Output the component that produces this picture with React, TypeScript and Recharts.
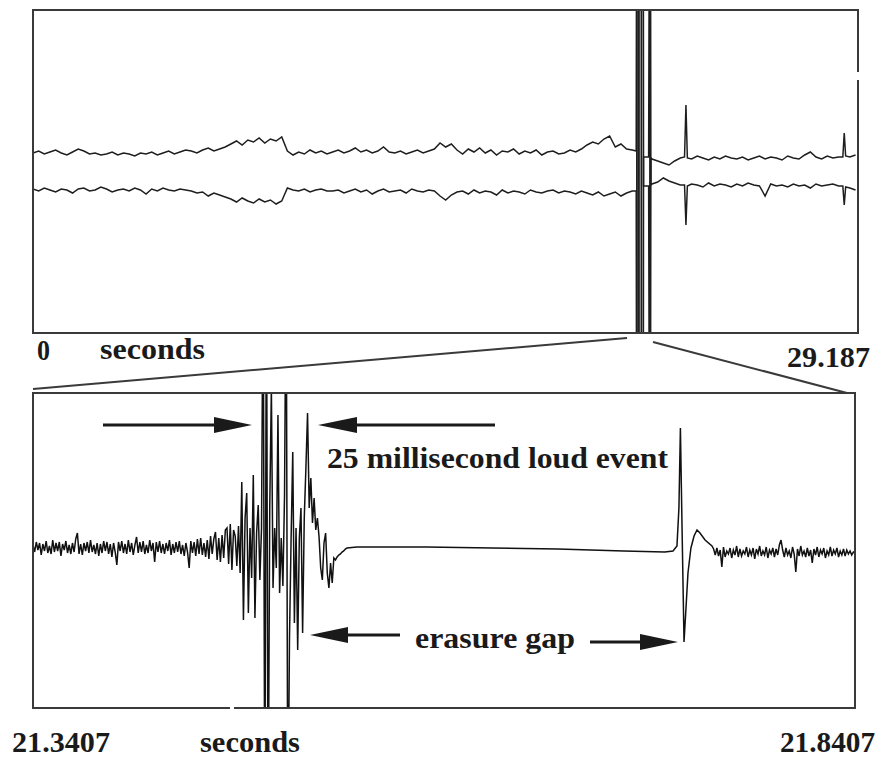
import { LineChart, Line, XAxis, YAxis } from "recharts";

// ---- overview (whole recording), two channels, one sample every 0.2 s ----
const overviewEnd = 29.187;
const overviewStep = 0.2;

// channel A (upper trace), samples from 0 s up to the loud event
const chanABefore = [
  0, 2, -1, 1, 3, 0, -2, 1, 4, 2, -1, 0, -2, -1, 1, -2, 0, -1, -3, 0, -1, 1, -2, 0, 2, -1, 1, 3,
  2, 0, 3, 5, 2, 4, 6,
  9, 12, 8, 13, 11, 15, 10, 14, 12, 16,
  2, -2, 1, -1, 3, 0, 2, -1,
  1, 3, 0, 2, 5, 1, 3, 0, 2, 6, 1, 0, 2, -1, 1, 3, 0, 2, 4,
  10, 6, 9,
  3, -1, 4, 1, 5, 0, 3, -2, 2, 1, 4, -1, 2, 0, 3, -2, 1, 2, -1, 0, 3, 1, 4,
  8, 11, 9, 14, 17,
  6, 9, 4, 3,
];
// channel B (lower trace)
const chanBBefore = [
  1, -1, 2, 0, -2, 1, 0, -3, 1, 2, -1, 0, 3, 1, -2, 0, 1, -1, 2, 0, -4, 1, -1, 2, 0, -1, 1, 0,
  -1, -3, -2, -6, -3, -5, -7,
  -9, -12, -8, -11, -13, -9, -12, -10, -14, -11,
  2, 0, -1, 1, -2, 0, 1, -1,
  -1, 0, -3, -1, 1, -2, 0, -4, -1, 1, -2, -1, 0, -3, 1, -1, -2, 0, -1,
  -6, -10, -5,
  -2, -1, -4, 0, -3, -1, -2, -5, 0, -3, -1, -2, -4, 0, -2, -3, -1, 0, -3, -1, -2, -4, -1,
  -3, -5, -2, -6, -4,
  -2, -6, -3, -1,
];

// after the erasure gap
const afterStart = 21.9;
const chanAAfter = [
  -6, -8, -10, -12, -8, -5, 48, -6, -3, -5,
  -7, -4, -6, -3, -5, -6, -4, -7, -5, -3,
  -6, -4, -5, -7, -3, -5, -6, -2, 1, -4,
  -6, -3, -5, -4, 20, -4, -2,
];
const chanBAfter = [
  6, 8, 12, 9, 7, 5, -35, 6, 5, 3,
  7, 4, 6, 5, 3, 6, 4, 7, 5, 4,
  -6, 6, 4, 5, 3, 6, 4, 5, 2, 6,
  4, 5, 6, 4, -15, 2, 0,
];

// [time s, chan A, chan B] : loud event, gap, and the narrow clicks
const overviewEvents: [number, number, number][] = [
  [21.34, 2, -1],
  [21.36, 400, -400],
  [21.37, -400, 400],
  [21.43, -400, 400],
  [21.44, 400, -400],
  [21.52, 400, -400],
  [21.53, -400, 400],
  [21.59, -400, 400],
  [21.6, -4, 4],
  [21.78, -4, 4],
  [21.82, 400, -400],
  [21.84, -400, 400],
  [21.86, -5, 5],
  [23.05, -4, 5],
  [23.15, -5, 4],
  [28.65, -4, 4],
  [28.75, -3, 3],
];

// ---- zoom 21.3407 .. 21.8407 s ----
const zoomStart = 21.3407;
const zoomEnd = 21.8407;
const noiseStep = 0.001;

const noiseBefore = [
  3, -4, 6, -2, 5, -7, 4, -3, 7, -5,
  2, -6, 8, -4, 5, -3, 6, -8, 4, -2,
  7, -5, 3, -6, 5, -4, 9, 15, -6, 4,
  -7, 5, -3, 6, -5, 8, -4, 3, -6, 5,
  -8, 4, -5, 7, -3, 6, -6, 4, -9, 5,
  -4, -17, 6, -3, 7, -5, 4, -6, 8, -4,
  5, -7, 3, 11, -5, 6, -4, 7, -6, 3,
  -5, 8, -3, 5, -14, 6, -4, 7, -5, 4,
  -6, 5, -3, 8, -7, 4, -5, 6, -4, 7,
  -6, 3, -8, 5, -4, -20, 7, -5, 6, -8,
  9, -6, 10, -7, 5, -9, 8, -11, 12, -6,
  9, 16, -12, 10, -14, 13, -10, 18, 20, -16,
  24, -22, 18,
];

const burstStart = 21.4637;
const burstStep = 0.001;
const burst = [
  12, -18, 22, -25, 66, -72, 30, 55, -65, 20,
  -30, 73, -70, 15, 43, -32, 20, 300, -300, 300,
  -300, 40, 160, -40, 20, -20, 133, -45, 10, -38,
  53, 300, -300, -92, 10, 96, -75, 20, -102, 10,
  40, -85, 30, 80, 135, 40, 70, 25, 50, 18,
  30, 11, -20, -32, 5, 15, -25, -40, -15, -35,
  -10, -12, -9, -7, -6, -4, -3, -1, 0,
];

// [time s, amplitude] : erasure gap and the click at its end
const gapAndClick: [number, number][] = [
  [21.5377, 1],
  [21.58, 1],
  [21.62, 0],
  [21.66, -1],
  [21.7, -3],
  [21.725, -4],
  [21.73, -3],
  [21.7324, 2],
  [21.7336, 40],
  [21.7345, 120],
  [21.7355, 20],
  [21.7367, -94],
  [21.7379, -60],
  [21.7391, -25],
  [21.7409, 0],
  [21.7428, 12],
  [21.7446, 18],
  [21.7464, 15],
  [21.7495, 8],
  [21.7537, 2],
];

const noiseAfterStart = 21.7547;
const noiseAfter = [
  -1, -7, 0, -8, -2, -19, 1, -9, -3, -6,
  0, -10, -2, -7, 2, -9, -1, -8, -3, -6,
  1, -9, -2, -7, 0, -11, -1, -6, 2, -8,
  -3, -7, 1, -10, -2, -6, 0, -9, -1, -7,
  3, 8, -2, -9, 0, -7, -3, -10, 1, -6,
  -24, -1, -8, 2, -7, -3, -9, 0, -8, -2,
  -15, -1, -7, 1, -9, -2, -6, 0, -10, -3,
  -7, 1, -8, -2, -6, 0, -9, -3, -7, -1,
  -8, -2, -6, -3, -7, -4, -5,
];

const overviewData = [
  ...chanABefore.map((a, i) => ({ t: i * overviewStep, a, b: chanBBefore[i] })),
  ...overviewEvents.map(([t, a, b]) => ({ t, a, b })),
  ...chanAAfter.map((a, i) => ({ t: afterStart + i * overviewStep, a, b: chanBAfter[i] })),
].sort((p, q) => p.t - q.t);

const zoomData = [
  ...noiseBefore.map((v, i) => ({ t: zoomStart + i * noiseStep, v })),
  ...burst.map((v, i) => ({ t: burstStart + i * burstStep, v })),
  ...gapAndClick.map(([t, v]) => ({ t, v })),
  ...noiseAfter.map((v, i) => ({ t: noiseAfterStart + i * noiseStep, v })),
].sort((p, q) => p.t - q.t);

const font = "'Liberation Serif', 'Times New Roman', serif";
const ink = "#1a1a1a";

const Txt = ({ x, y, w, children }: { x: number; y: number; w: number; children: string }) => (
  <text
    x={x}
    y={y}
    textLength={w}
    lengthAdjust='spacingAndGlyphs'
    fontFamily={font}
    fontWeight='bold'
    fontSize={30}
    fill={ink}
  >
    {children}
  </text>
);

export default function App() {
  return (
    <div style={{ position: "absolute", left: 0, top: 0, width: 881, height: 759, background: "#fff" }}>
      <div style={{ position: "absolute", left: 33, top: 10 }}>
        <LineChart width={825} height={323} data={overviewData} margin={{ top: 0, right: 0, bottom: 0, left: 0 }}>
          <XAxis dataKey='t' type='number' domain={[0, overviewEnd]} allowDataOverflow hide />
          <YAxis yAxisId='a' type='number' domain={[-180, 143]} allowDataOverflow hide />
          <YAxis yAxisId='b' type='number' domain={[-143, 180]} allowDataOverflow hide />
          <Line yAxisId='a' dataKey='a' type='linear' stroke='#1e1e1e' strokeWidth={1.5} dot={false} isAnimationActive={false} />
          <Line yAxisId='b' dataKey='b' type='linear' stroke='#1e1e1e' strokeWidth={1.5} dot={false} isAnimationActive={false} />
        </LineChart>
      </div>

      <div style={{ position: "absolute", left: 33, top: 393 }}>
        <LineChart width={822} height={315} data={zoomData} margin={{ top: 0, right: 0, bottom: 0, left: 0 }}>
          <XAxis dataKey='t' type='number' domain={[zoomStart, zoomEnd]} allowDataOverflow hide />
          <YAxis type='number' domain={[-160, 155]} allowDataOverflow hide />
          <Line dataKey='v' type='linear' stroke='#111' strokeWidth={1.5} dot={false} isAnimationActive={false} />
        </LineChart>
      </div>

      <svg width={881} height={759} style={{ position: "absolute", left: 0, top: 0, pointerEvents: "none" }}>
        {/* frames */}
        <g stroke='#3a3a3a' strokeWidth={2} fill='none'>
          <path d='M858 72 V10 H33 V333 H858 V80' />
          <path d='M230 708 H33 V393 H855 V708 H234' />
          <line x1={33} y1={389} x2={627} y2={338} />
          <line x1={653} y1={342} x2={847} y2={393} />
        </g>

        {/* arrows */}
        <g stroke={ink} strokeWidth={3}>
          <line x1={103} y1={425} x2={220} y2={425} />
          <line x1={352} y1={425} x2={495} y2={425} />
          <line x1={345} y1={635} x2={400} y2={635} />
          <line x1={590} y1={642} x2={645} y2={642} />
        </g>
        <g fill={ink}>
          <polygon points='214,417 252,425 214,433' />
          <polygon points='318,425 357,417 357,433' />
          <polygon points='310,635 348,627 348,643' />
          <polygon points='640,634 678,642 640,650' />
        </g>

        <Txt x={37} y={360} w={13}>0</Txt>
        <Txt x={100} y={359} w={105}>seconds</Txt>
        <Txt x={787} y={367} w={83}>29.187</Txt>
        <Txt x={327} y={468} w={341}>25 millisecond loud event</Txt>
        <Txt x={415} y={648} w={160}>erasure gap</Txt>
        <Txt x={12} y={752} w={98}>21.3407</Txt>
        <Txt x={200} y={752} w={100}>seconds</Txt>
        <Txt x={780} y={752} w={95}>21.8407</Txt>
      </svg>
    </div>
  );
}
